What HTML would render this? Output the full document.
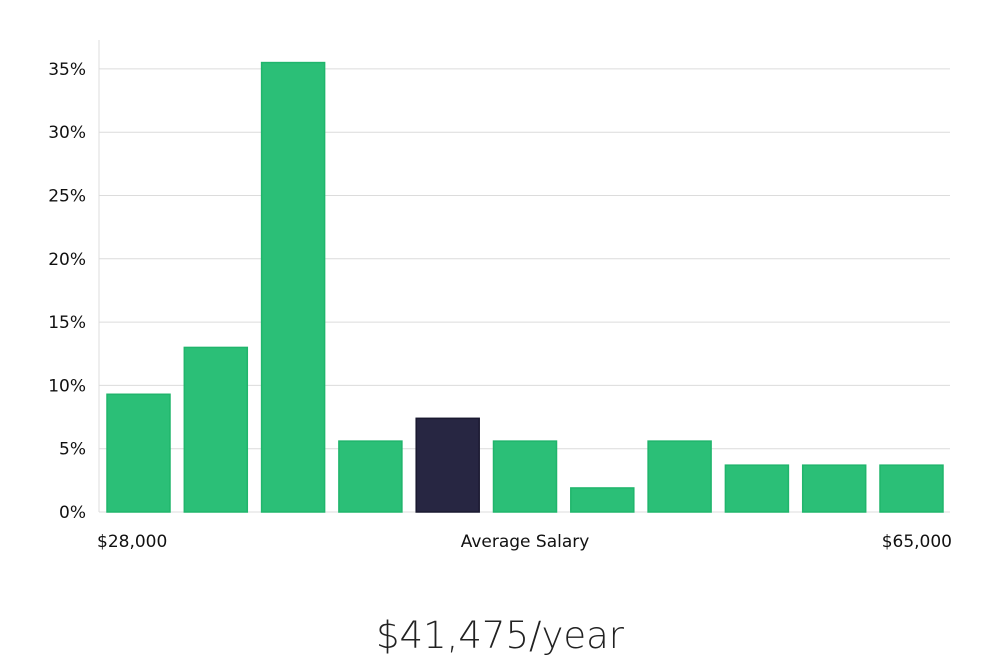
<!DOCTYPE html>
<html><head><meta charset="utf-8"><style>
body{margin:0;background:#fff;width:1000px;height:660px;overflow:hidden;font-family:"DejaVu Sans","Liberation Sans",sans-serif;}
svg text{font-family:"DejaVu Sans","Liberation Sans",sans-serif;}
</style></head><body>
<svg width="1000" height="660">
<g id="grid"></g><g id="bars"></g><g id="labels"></g>
<text x="500" y="648" text-anchor="middle" font-size="37" font-weight="300" fill="#222">$41,475/year</text>
</svg>
<script>
const categories=["b1","b2","b3","b4","b5","b6","b7","b8","b9","b10","b11"];
const values=[9.3,13.0,35.5,5.6,7.4,5.6,1.9,5.6,3.7,3.7,3.7];
const highlight=[false,false,false,false,true,false,false,false,false,false,false];
const yTicks=[0,5,10,15,20,25,30,35];
const xLabels=["$28,000","Average Salary","$65,000"];
const NS="http://www.w3.org/2000/svg";
const y0=512,pxPer=12.66,left=99,right=950,x0=107,step=77.3,bw=63;
const y=v=>y0-v*pxPer;
const x=i=>x0+i*step;
function mk(t,a,p){const e=document.createElementNS(NS,t);for(const k in a)e.setAttribute(k,a[k]);p.appendChild(e);return e;}
const g=document.getElementById('grid');
const ax=mk('line',{x1:left,x2:left,y1:40,y2:y0,stroke:'#ddd'},g);


yTicks.forEach(t=>{
 const l=mk('line',{x1:left,x2:right,y1:y(t),y2:y(t),stroke:'#dcdcdc'},g);
 
 
 const tx=mk('text',{x:86,y:y(t)+6,'text-anchor':'end','font-size':17,fill:'#111'},g);
 tx.textContent=t+'%';
 
 
});
const b=document.getElementById('bars');
values.forEach((v,i)=>{
 const r=mk('rect',{x:x(i),y:y(v),width:bw,height:y0-y(v),fill:highlight[i]?'#272642':'#2bbf77',stroke:highlight[i]?'#1a1930':'#20b56c','stroke-width':1.5},b);
 
 
});
const lg=document.getElementById('labels');
[[97,'start'],[525,'middle'],[952,'end']].forEach((p,i)=>{
 const t=mk('text',{x:p[0],y:547,'text-anchor':p[1],'font-size':17,fill:'#111'},lg);
 t.textContent=xLabels[i];
 
 
});
</script>
</body></html>
